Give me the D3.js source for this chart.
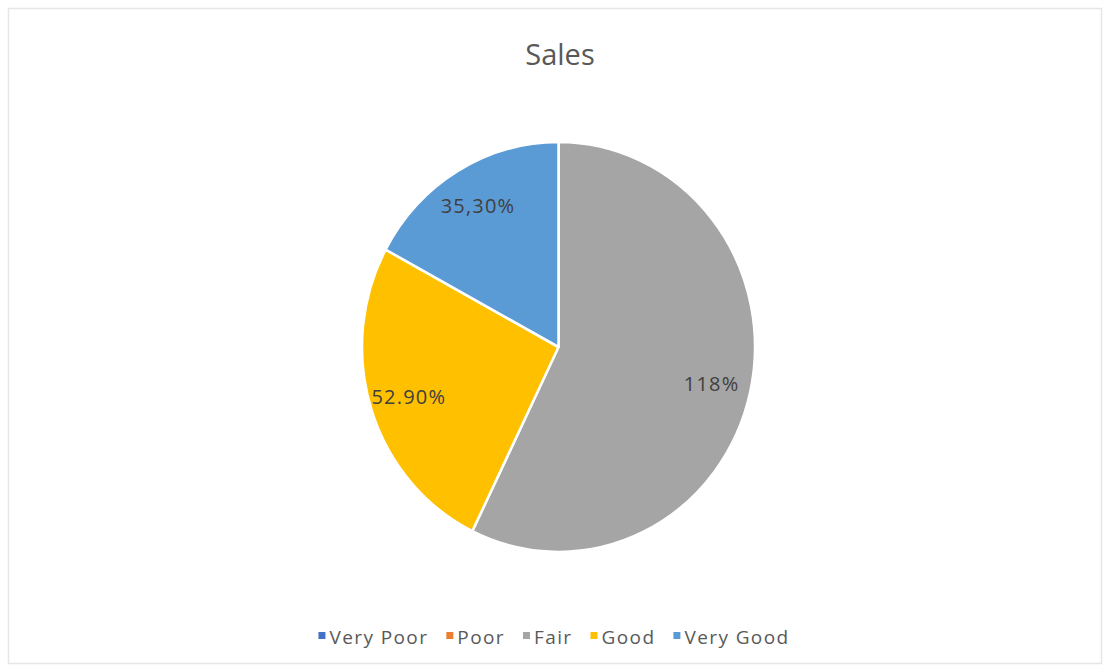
<!DOCTYPE html>
<html>
<head>
<meta charset="utf-8">
<script src="https://cdn.jsdelivr.net/npm/d3@7"></script>
<style>
  html, body { margin: 0; padding: 0; background: #fff; }
  svg { display: block; font-family: "Open Sans", sans-serif; }
</style>
</head>
<body>
<svg id="chart" width="1104" height="671"></svg>
<script>
// chart data
const categories = ["Very Poor", "Poor", "Fair", "Good", "Very Good"];
const values = [0, 0, 118, 52.9, 35.3];
const valueLabels = ["", "", "118%", "52.90%", "35,30%"];
const colors = ["#4472C4", "#ED7D31", "#A5A5A5", "#FFC000", "#5B9BD5"];
const title = "Sales";

const width = 1104, height = 671;
const cx = 558.5, cy = 347;
const radius = 196.5;
const yStretch = 1.043; // the source pie is slightly taller than wide

const svg = d3.select("#chart");

// outer frame of the chart area
svg.append("rect")
    .attr("x", 8.5).attr("y", 8.5)
    .attr("width", 1093).attr("height", 655)
    .attr("fill", "#fff")
    .attr("stroke", "#e6e6e6")
    .attr("stroke-width", 1.5);

svg.append("text")
    .attr("x", 560).attr("y", 65)
    .attr("text-anchor", "middle")
    .attr("fill", "#595959")
    .style("font-size", "29px")
    .text(title);

const data = categories.map((c, i) => ({ name: c, value: values[i], label: valueLabels[i], color: colors[i] }));

const pie = d3.pie().sort(null).value(d => d.value);
const arcs = pie(data);

const arc = d3.arc().innerRadius(0).outerRadius(radius);
const labelArc = d3.arc().innerRadius(radius * 0.8).outerRadius(radius * 0.8);

const g = svg.append("g")
    .attr("transform", `translate(${cx},${cy}) scale(1,${yStretch})`);

g.selectAll("path.slice")
    .data(arcs.filter(d => d.data.value > 0))
    .join("path")
    .attr("class", "slice")
    .attr("d", arc)
    .attr("fill", d => d.data.color)
    .attr("stroke", "#fff")
    .attr("stroke-width", 2.5)
    .attr("stroke-linejoin", "round");

svg.append("g")
    .attr("transform", `translate(${cx},${cy})`)
    .selectAll("text")
    .data(arcs.filter(d => d.data.value > 0))
    .join("text")
    .attr("x", d => labelArc.centroid(d)[0])
    .attr("y", d => labelArc.centroid(d)[1] * yStretch)
    .attr("dy", "0.35em")
    .attr("text-anchor", "middle")
    .attr("fill", "#404040")
    .style("font-size", "20px")
    .style("letter-spacing", "1.2px")
    .text(d => d.data.label);

// legend, laid out left to right and centred
const legend = svg.append("g").attr("transform", "translate(0,637)");
const items = legend.selectAll("g")
    .data(data)
    .join("g");

items.append("rect")
    .attr("width", 7).attr("height", 7)
    .attr("y", -5)
    .attr("fill", d => d.color);

items.append("text")
    .attr("x", 11)
    .attr("dy", "0.35em")
    .attr("fill", "#595959")
    .style("font-size", "19px")
    .style("letter-spacing", "1.4px")
    .text(d => d.name);

let xPos = 0;
const gap = 18;
items.each(function() {
    const w = this.getBBox().width;
    d3.select(this).attr("transform", `translate(${xPos},0)`);
    xPos += w + gap;
});
const total = xPos - gap;
legend.attr("transform", `translate(${554 - total / 2},637)`);
</script>
</body>
</html>
